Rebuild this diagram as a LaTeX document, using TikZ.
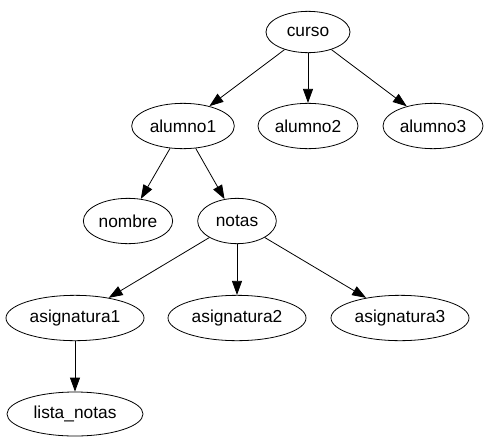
\documentclass[tikz,border=0pt]{standalone}
\usepackage{fontspec}
\setmainfont{Liberation Sans}
\usetikzlibrary{shapes.geometric, arrows.meta}
\tikzstyle{nd}=[shape=ellipse, draw, line width=.6pt, inner sep=0, minimum height=34pt, font=\fontsize{13}{15}\selectfont]
\tikzstyle{ar}=[line width=.6pt, -{Triangle[length=10.5pt, width=7.5pt]}]

\begin{document}
\begin{tikzpicture}[x=.75pt, y=-.75pt]
\useasboundingbox (0,0) rectangle (489,443);
\node at (308,32)[nd, minimum width=63pt, minimum height=31pt](curso){curso};
\node at (183,126)[nd, minimum width=77pt](alumno1){alumno1};
\node at (308,126)[nd, minimum width=75pt](alumno2){alumno2};
\node at (433,126)[nd, minimum width=75pt](alumno3){alumno3};
\node at (128,221)[nd, minimum width=67pt](nombre){nombre};
\node at (237,221)[nd, minimum width=59pt](notas){notas};
\node at (75,318)[nd, minimum width=103.5pt](asig1){asignatura1};
\node at (237,318)[nd, minimum width=103.5pt](asig2){asignatura2};
\node at (400,318)[nd, minimum width=103.5pt](asig3){asignatura3};
\node at (75,414)[nd, minimum width=102pt, minimum height=33pt](lista){lista\_notas};
\draw[ar] (curso)--(alumno1);
\draw[ar] (curso)--(alumno2);
\draw[ar] (curso)--(alumno3);
\draw[ar] (alumno1)--(nombre);
\draw[ar] (alumno1)--(notas);
\draw[ar] (notas)--(asig1);
\draw[ar] (notas)--(asig2);
\draw[ar] (notas)--(asig3);
\draw[ar] (asig1)--(lista);
\end{tikzpicture}
\end{document}
